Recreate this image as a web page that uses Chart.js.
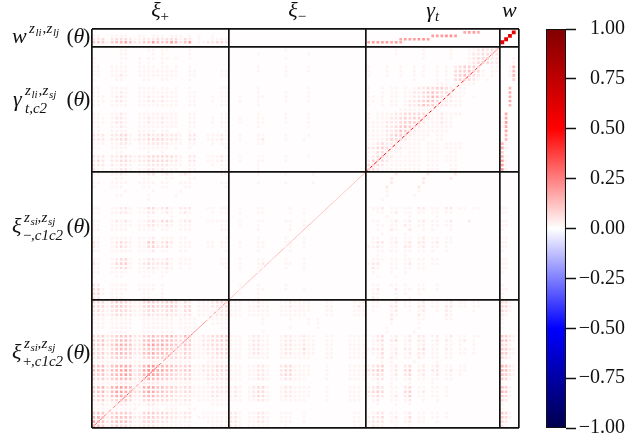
<!DOCTYPE html>
<html>
<head>
<meta charset="utf-8">
<script src="https://cdn.jsdelivr.net/npm/chart.js@4"></script>
<style>
  html, body { margin: 0; padding: 0; background: #fff; }
  canvas { position: absolute; top: 0; }
  #matrix { left: 0; }
  #colorbar { left: 530px; }
</style>
</head>
<body>
<canvas id="matrix" width="530" height="443"></canvas>
<canvas id="colorbar" width="113" height="443"></canvas>
<script>
// correlation levels, one digit per dot (digit * levelStep), R = wPeak
// every row: xi+ columns, xi- columns, gamma columns, w columns. rows go top to bottom
const levelStep = 0.024;
const wPeak = 0.6;

const wRows = [
  "000000000000000000000000000000 0 00000000000000000000078870000 000R",
  "110011110011011101110101001000 0 00000000000000888998000000000 00R0",
  "223023332112223233313201001111 0 00000007888998000000000000000 0R00",
  "444145675224485458625801122332 0 78888787000000000000000000000 R000"
];

const gammaRows = [
  "000000110000110110000100000000 000000000000100000000000000000 00000010000010000010001123234 0000",
  "000000110000010100000100000000 000000100000000001000000000000 00000010000010000010001223342 0000",
  "100000110010110110100100000000 000000000000100000000000000000 00000000000010000010001233422 0001",
  "100000100010100100000000000000 000000000000000000000000000000 00000000000000000000001234322 0001",
  "110011110011110110100100000000 000000100000100001000000000000 10001001001010010102344430011 0016",
  "110011110011111111100110000011 000000100000100001000000000000 10001001001010010103445431011 0016",
  "110011210011111111100110000011 000000000000100000000000000000 10001001001010010103454321010 0016",
  "100001100001100110000100000000 000000000000000000000000000000 00000000001000010103443210100 0004",
  "000000000000000000000000000000 000000000000000000000000000000 00000000000000011101111100000 0000",
  "110011110011110110100100000011 000000100000000001000000000000 10010110101223344321110000000 0060",
  "110011210011111111100110000011 000000100000100001000000000000 10010110112234543321110000000 0070",
  "111012210011211211100110001011 001000110000100001000000000000 11010110112234653221100100000 0070",
  "111012210011221211100110001011 001000100000100001000000000000 11010110122345532221100000000 0070",
  "110011110011111111100110000011 000000100000000000000000000000 10010110122354432211100000000 0060",
  "000000000000000000000000000000 000000000000000000000000000000 00000001111111110000000000000 0000",
  "110011210011111111100110000011 000000100000100001000000000000 10111122333332112111100000000 0700",
  "111012210011211211100110001011 001000110000100001000000000000 10111223434432112110000000000 1700",
  "111012210011211211100110001011 001000110000100001000000000000 11112223444421112110000000000 1800",
  "110011210011111111100110000011 000000100000000001000000000000 11112234543211111110000000000 1700",
  "110011110011110110000100000001 000000000000000000000000000000 11112235432111111100000000000 0700",
  "222022331022322322210220011121 001000110000100001000000000000 11112344321111011000000000000 0600",
  "222022331122333322210220011121 001000120000100010000000000000 11112433211110011000000000000 0600",
  "111011221011222221110110001011 000000110000000000000000000000 11232221111101110111100000000 6100",
  "110011110011111110100100000001 000000000000000000000000000000 22343222111101110111100000000 7100",
  "000001100000100100000000000000 000000000000000000000000000000 11332111011101110011000000000 4000",
  "222022332122333333210220011121 001000110000100001000000000000 12342211111101110111000000000 7100",
  "232022332122333332210220011121 001000110000100000000000000000 24432111111101110111000000000 8100",
  "222021221011222221110110001011 000000100000000000000000000000 34321111111101110011000000000 8100",
  "211011221011221211100110000011 000000100000000000000000000000 43211111111101110011000000000 8100"
];

const ximRows = [
  "110011210011220121012100000011 000000100000100000100000000000 00000020000002000002000000000 0000",
  "000001100001100011000110000000 000000000000000000000000000000 00000200000020000020000000000 0000",
  "110011110011110110011100000011 000000100000100000100000000000 00000200000020000000000000000 0000",
  "100011100001100110001100000001 000000000000000000000000000000 00002000000200000000000000000 0000",
  "000000010000010000010000000000 000000000000000000000000000000 00001000000100000000000000000 0000",
  "000001100000100000100000000000 000000000000000000000000000000 00001000001000000000000000000 0000",
  "000000000000100000000000000000 000000000000000000000000000000 00010000000000000000000000000 0000",
  "000000000000000000000000000000 000000000000000000000000000000 00000000000000000000000000000 0000",
  "110011221011331231022200011011 001000110000010010000000000000 01120110110220110220110110000 1100",
  "110011221011220121012100001011 001000110000010010000000000000 00110120110110110110000000000 1100",
  "000000000000100001000000000000 000000000000000000000000000000 00001000010000010000000000000 0000",
  "110012121011231332012200011111 001000110000110010000000000000 01100120120120110120002000000 1100",
  "110011111011221121011100000011 001000100000010010000000000000 00110110210110110110000000000 1100",
  "110011110011110110011100000011 000000100000010000000000000000 00100210020010100010000000000 1000",
  "000000000000000000000000000000 000000000000000000000000000000 00010000100000000000000000000 0000",
  "110011111011120111011000000001 000000100000100010000000000000 01100110110120110110000000000 1100",
  "210012321011441232011100011011 001000110000120010000000000000 01220120120220120110000000000 1100",
  "210012321011342231011100011011 001000110000110010000000000000 11210110220120110100000000000 1100",
  "110011111011120110011000000001 000000100000010000000000000000 00110110110110100100000000000 1000",
  "000000000000000000000000000000 000000000000000000000000000000 00100000100000000000000000000 0000",
  "110012331011221121011100000011 001000110000100010000000000000 01110110110110110000000000000 1100",
  "210013441012322231011100000011 001000120000110010000000000000 12200110120110110000000000000 1100",
  "110012331011221121010100000001 001000110000100010000000000000 02100110110110000000000000000 1100",
  "110011110011110110000000000000 000000100000000000000000000000 01000100100000000000000000000 1000",
  "100001100001100100000000000000 000000000000000000000000000000 00100010000000000000000000000 0000",
  "000000000000000000000000000000 000000000000000000000000000000 00000000000000000000000000000 0000",
  "220011110011110100000000000000 001000100000100000000000000000 01100110100110010000000000000 1000",
  "331011110011110100000000000000 001000110000100010000000000000 01200020110110010000000000000 1100",
  "331011100001100100000000000000 001000100000000000000000000000 01100010100100000000000000000 1000",
  "220011100001100100000000000000 000000100000000000000000000000 02100010010000000000000000000 1000"
];

const xipRows = [
  "333134432113443344313201112333 111011211001121111000110000112 01100120110120110120110110000 3310",
  "333134432113443344313301112233 111011211001121111000110000121 01100220110220110220110110000 3310",
  "232123332112332233213301111222 111011111001111111000110000111 01000120010120010210000100000 3210",
  "222123322112322232212201111222 111011111001111110000110000111 00000210000210000210000000000 2100",
  "111011111001111111011110011111 000000010000010001010000000000 00000200000110000110000000000 1000",
  "111011111001111111011110001111 000000010000000001010000000000 00000100000100000000000000000 1000",
  "111011111001111111011110000011 000000000000010000010000000000 00001000000100000000000000000 1000",
  "000011110001110111001100000000 000000010000000000000000000000 00001000001000000000000000000 0000",
  "334234554224564566436511223344 111012211001221121100110001111 01230120120220120120110110000 4421",
  "445235664225675665435411223344 111012211001221121100110001111 01230230120220120210120100000 5521",
  "445246765225786765435411223333 111012211001221121100110001111 01120110110120110110100100000 3310",
  "333135654224565554324311122333 111012211001221131100110001111 12230120220230110210110100000 4421",
  "334245654225675654324311122333 111012211001221121100110001111 01130120120220110110110100000 4411",
  "233134443113454443323311112222 111011111001111111000110001111 00120210110210110110000000000 3210",
  "111111111111121111111100011111 000000000000000000000000000000 00010100001000010000000000000 1000",
  "556256776236897665434411222333 111011221002331111000100001111 12340120230120120110110000000 6521",
  "556256786237997765434411222333 111011221002331111000100001111 23440120340220220120110000000 6521",
  "445256786236987554323311122222 111011221002331111000100001111 12320120230120120110100000000 5421",
  "334245665225765443323311122222 111011221001221110000100001111 01220110120110110110000000000 4310",
  "111112221112222111111100011111 000000000000000000000000000000 00100100010000100000000000000 1000",
  "456267876226775544323311112222 121012331001221111000100001110 12320110230110110100000000000 5410",
  "456268876336875544323311112222 121012331001221111000100001110 23430110340120110100000000000 6510",
  "345257765225664443222211112211 121012331001221111000100001110 12320120240110110100000000000 4310",
  "234134553113443332212201111111 111011221001111110000100001110 01200110120010010000000000000 3200",
  "112112221111221111111100001111 000000000000000000000000000000 00100010010000000000000000000 1000",
  "111111111100111011100110000000 000000000000000000000000000000 00000000000000000000000000000 1000",
  "455234443113443332212200111111 221011221001110010000000000110 01220110120110110100000000000 4310",
  "676245554223443332212201111111 221011221001110010000000000110 12230120130110110100000000000 4310",
  "765245553113332221111100011111 221011221001110010000000000110 12220110120110010000000000000 3200",
  "654134332112221111111100001111 221011111000100000000000000110 02110010010000000000000000000 2100"
];

// main diagonal, one level per dot, bottom left to top right
const diagXip = [0.32,0.3,0.28,0.22,0.26,0.3,0.32,0.34,0.28,0.2,0.24,0.32,0.36,0.36,0.3,0.28,0.32,0.3,0.26,0.2,0.28,0.3,0.22,0.2,0.2,0.2,0.22,0.22,0.24,0.24];
const diagXim = [0.12,0.12,0.12,0.1,0.12,0.12,0.14,0.14,0.12,0.1,0.12,0.14,0.14,0.14,0.12,0.12,0.14,0.14,0.12,0.1,0.12,0.12,0.12,0.1,0.1,0.1,0.12,0.12,0.12,0.14];
const diagGamma = [0.46,0.5,0.52,0.52,0.5,0.5,0.52,0.56,0.56,0.54,0.52,0.52,0.54,0.56,0.56,0.54,0.5,0.52,0.54,0.52,0.5,0.46,0.46,0.44,0.4,0.38,0.34,0.3,0.26];

const blockEdges = [0, 30, 60, 89.25, 93.5];
const wBinsX = [89.85, 90.68, 91.52, 92.35];
const wBinsY = [92.7, 91.9, 91.1, 90.4];
const topLabels = [["ξ", "+"], ["ξ", "−"], ["γ", "t"], ["w", ""]];
const colorbarTicks = [-1, -0.75, -0.5, -0.25, 0, 0.25, 0.5, 0.75, 1];
const seismicStops = [[0, "rgb(0,0,77)"], [0.25, "rgb(0,0,255)"], [0.5, "rgb(255,255,255)"], [0.75, "rgb(255,0,0)"], [1, "rgb(128,0,0)"]];

const FONT = '"Liberation Serif", serif';

function seismic(v) {
  // only the positive half of the map shows up in the matrix
  if (v <= 0.5) {
    const g = Math.round(255 * (1 - 2 * v));
    return "rgb(255," + g + "," + g + ")";
  }
  return "rgb(" + Math.round(255 - 255 * (v - 0.5)) + ",0,0)";
}

const cells = [];
function addBand(rows, rowY) {
  rows.forEach((row, k) => {
    row.split(" ").forEach((panel, p) => {
      for (let c = 0; c < panel.length; c++) {
        const ch = panel[c];
        if (ch === "0") continue;
        const x = p === 3 ? wBinsX[c] : blockEdges[p] + c + (p === 2 ? 0.625 : 0.5);
        cells.push({ x: x, y: rowY(k), v: ch === "R" ? wPeak : Number(ch) * levelStep });
      }
    });
  });
}
addBand(wRows, k => wBinsY[k]);
addBand(gammaRows, k => blockEdges[3] - 0.625 - k);
addBand(ximRows, k => blockEdges[2] - 0.5 - k);
addBand(xipRows, k => blockEdges[1] - 0.5 - k);

const diagLevels = diagXip.concat(diagXim, diagGamma);
const diagPoints = diagLevels.map((v, i) => ({ x: i, y: i }));
diagPoints.push({ x: blockEdges[3], y: blockEdges[3] });

// [text, x, baseline, size, italic]
const leftLabels = [
  [["w", 12, 43, 22, 1], ["z", 29, 33, 15, 1], ["li", 35.5, 36, 11, 1], [",", 42.5, 33, 15, 0], ["z", 46.5, 33, 15, 1], ["lj", 53, 36, 11, 1], ["(", 66.5, 43, 22, 0], ["θ", 73.5, 43, 22, 1], [")", 83, 43, 22, 0]],
  [["γ", 13, 106, 22, 1], ["z", 25, 95, 15, 1], ["li", 31.5, 98, 11, 1], [",", 38.5, 95, 15, 0], ["z", 42.5, 95, 15, 1], ["sj", 49, 98, 11, 1], ["t,c2", 25, 113, 15, 1], ["(", 66.5, 106, 22, 0], ["θ", 73.5, 106, 22, 1], [")", 83, 106, 22, 0]],
  [["ξ", 12, 233, 22, 1], ["z", 24, 222, 15, 1], ["si", 30.5, 225, 11, 1], [",", 37.5, 222, 15, 0], ["z", 41.5, 222, 15, 1], ["sj", 48, 225, 11, 1], ["−", 23, 240, 15, 0], [",c1c2", 31, 240, 15, 1], ["(", 66.5, 233, 22, 0], ["θ", 73.5, 233, 22, 1], [")", 83, 233, 22, 0]],
  [["ξ", 12, 359, 22, 1], ["z", 24, 348, 15, 1], ["si", 30.5, 351, 11, 1], [",", 37.5, 348, 15, 0], ["z", 41.5, 348, 15, 1], ["sj", 48, 351, 11, 1], ["+", 23, 366, 15, 0], [",c1c2", 31, 366, 15, 1], ["(", 66.5, 359, 22, 0], ["θ", 73.5, 359, 22, 1], [")", 83, 359, 22, 0]]
];

const matrixBackground = {
  id: "matrixBackground",
  beforeDraw(chart) {
    const a = chart.chartArea;
    chart.ctx.save();
    chart.ctx.fillStyle = "rgb(255,253,253)";
    chart.ctx.fillRect(a.left, a.top, a.right - a.left, a.bottom - a.top);
    chart.ctx.restore();
  }
};

const panelLabels = {
  id: "panelLabels",
  afterDraw(chart) {
    const ctx = chart.ctx;
    ctx.save();
    ctx.fillStyle = "#111";
    ctx.textAlign = "left";
    ctx.textBaseline = "alphabetic";
    topLabels.forEach((lab, i) => {
      const cx = chart.scales.x.getPixelForValue((blockEdges[i] + blockEdges[i + 1]) / 2);
      ctx.font = "italic 22px " + FONT;
      const w = ctx.measureText(lab[0]).width;
      ctx.font = "15px " + FONT;
      const subW = ctx.measureText(lab[1]).width;
      const x0 = cx - (w + subW) / 2;
      ctx.font = "italic 22px " + FONT;
      ctx.fillText(lab[0], x0, 17);
      ctx.font = (lab[1] === "t" ? "italic " : "") + "15px " + FONT;
      ctx.fillText(lab[1], x0 + w, 21);
    });
    leftLabels.forEach(runs => {
      runs.forEach(r => {
        ctx.font = (r[4] ? "italic " : "") + r[3] + "px " + FONT;
        ctx.fillText(r[0], r[1], r[2]);
      });
    });
    ctx.restore();
  }
};

function edgeTicks(scale) {
  scale.ticks = blockEdges.map(v => ({ value: v }));
}

new Chart(document.getElementById("matrix").getContext("2d"), {
  type: "scatter",
  data: {
    datasets: [
      {
        data: cells,
        pointStyle: "rect",
        pointRadius: ctx => (ctx.raw.v === wPeak ? 2.7 : 1.9),
        pointBorderWidth: 0,
        pointBackgroundColor: ctx => seismic(ctx.raw.v)
      },
      {
        data: diagPoints,
        showLine: true,
        pointRadius: 0,
        borderWidth: 1,
        segment: {
          borderColor: ctx => seismic(diagLevels[ctx.p0DataIndex])
        }
      }
    ]
  },
  options: {
    responsive: false,
    animation: false,
    events: [],
    layout: { padding: { left: 91.5, right: 11, top: 29, bottom: 15 } },
    plugins: { legend: { display: false }, tooltip: { enabled: false } },
    scales: {
      x: {
        type: "linear",
        min: 0,
        max: 93.5,
        afterBuildTicks: edgeTicks,
        ticks: { display: false },
        grid: { color: "#111", lineWidth: 1.7, drawTicks: false, z: 1 },
        border: { display: false }
      },
      y: {
        type: "linear",
        min: 0,
        max: 93.5,
        afterBuildTicks: edgeTicks,
        ticks: { display: false },
        grid: { color: "#111", lineWidth: 1.7, drawTicks: false, z: 1 },
        border: { display: false }
      }
    }
  },
  plugins: [matrixBackground, panelLabels]
});

new Chart(document.getElementById("colorbar").getContext("2d"), {
  type: "bar",
  data: {
    labels: [""],
    datasets: [{
      data: [[-1, 1]],
      barPercentage: 1,
      categoryPercentage: 1,
      borderColor: "#111",
      borderWidth: 1.4,
      borderSkipped: false,
      backgroundColor: ctx => {
        const a = ctx.chart.chartArea;
        if (!a) return "#fff";
        const g = ctx.chart.ctx.createLinearGradient(0, a.bottom, 0, a.top);
        seismicStops.forEach(s => g.addColorStop(s[0], s[1]));
        return g;
      }
    }]
  },
  options: {
    responsive: false,
    animation: false,
    events: [],
    layout: { padding: { left: 16, right: 18, top: 29, bottom: 15 } },
    plugins: { legend: { display: false }, tooltip: { enabled: false } },
    scales: {
      x: { display: false },
      y: {
        position: "right",
        min: -1,
        max: 1,
        afterBuildTicks: scale => { scale.ticks = colorbarTicks.map(v => ({ value: v })); },
        afterFit: scale => { scale.width = 59; },
        border: { display: false },
        grid: { drawOnChartArea: false, tickLength: 10, tickColor: "#111", tickWidth: 1.5 },
        ticks: {
          color: "#111",
          font: { family: FONT, size: 20 },
          padding: 0,
          crossAlign: "far",
          callback: v => v.toFixed(2).replace("-", "−")
        }
      }
    }
  }
});
</script>
</body>
</html>
